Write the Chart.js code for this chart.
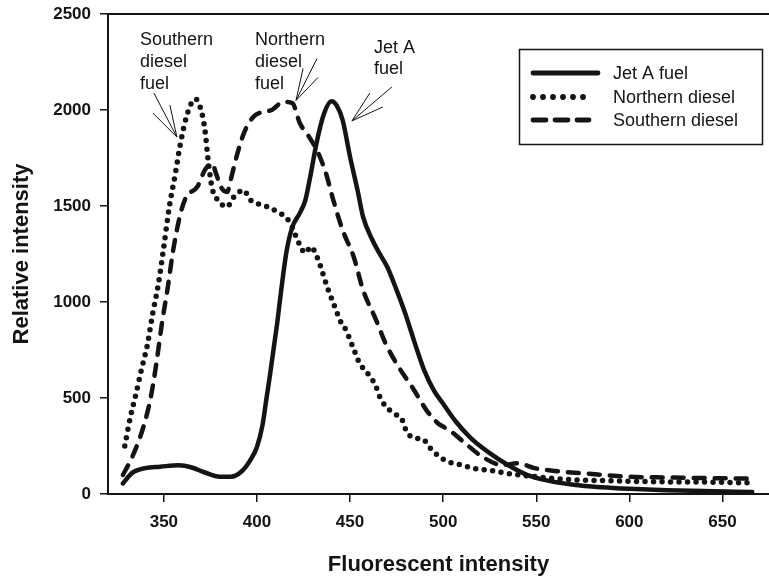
<!DOCTYPE html>
<html>
<head>
<meta charset="utf-8">
<title>Fluorescence spectra</title>
<script src="https://cdn.jsdelivr.net/npm/chart.js@4.4.1/dist/chart.umd.min.js"></script>
<style>
    html, body { margin: 0; padding: 0; background: #fff; }
    #wrap { width: 769px; height: 578px; position: relative; }
</style>
</head>
<body>
<div id="wrap"><canvas id="spectraChart"></canvas></div>
<script>
// ================= DATA =================
const seriesNames = ["Jet A fuel", "Northern diesel", "Southern diesel"];
const xTicks = [350, 400, 450, 500, 550, 600, 650];
const yTicks = [0, 500, 1000, 1500, 2000, 2500];

const jetX = [328, 333, 340, 348, 358, 365, 372, 380, 386, 392, 396, 400, 403, 405, 407, 409, 411, 413, 416, 419, 423, 426, 429, 432, 436, 440, 443, 446, 450, 454, 457, 462, 466, 470, 475, 479, 482, 486, 490, 495, 500, 507, 515, 525, 535, 545, 555, 570, 585, 600, 620, 640, 666];
const jetY = [55, 110, 135, 142, 150, 138, 112, 90, 90, 120, 170, 245, 360, 490, 620, 760, 900, 1060, 1270, 1390, 1463, 1531, 1672, 1828, 1980, 2045, 2020, 1948, 1756, 1583, 1443, 1323, 1250, 1182, 1062, 958, 870, 750, 640, 540, 470, 375, 290, 213, 150, 100, 72, 48, 35, 27, 20, 15, 10];

const northX = [329, 332, 335, 338, 341, 344, 347, 350, 353, 356, 359, 362, 365, 367, 370, 372, 374, 376, 379, 384, 387, 393, 396, 401, 406, 411, 416, 419, 421, 423, 426, 429, 432, 434, 436, 438, 441, 445, 448, 450, 452, 454, 457, 461, 464, 466, 469, 473, 478, 480, 484, 489, 493, 498, 503, 508, 513, 518, 524, 530, 536, 545, 555, 570, 585, 600, 620, 640, 665];
const northY = [250, 400, 520, 650, 770, 940, 1090, 1290, 1500, 1660, 1830, 1960, 2040, 2057, 2000, 1900, 1720, 1590, 1531, 1495, 1541, 1583, 1536, 1510, 1495, 1469, 1437, 1390, 1340, 1297, 1255, 1288, 1241, 1190, 1130, 1070, 995, 897, 851, 802, 755, 703, 655, 609, 557, 505, 458, 423, 385, 333, 292, 286, 240, 194, 167, 156, 142, 130, 125, 115, 105, 95, 85, 74, 70, 66, 63, 62, 58];

const southX = [328, 333, 339, 343, 346, 349, 352, 355, 359, 362, 368, 372, 376, 378, 381, 384, 386, 389, 393, 398, 403, 408, 414, 419, 423, 428, 433, 437, 441, 446, 452, 457, 464, 469, 476, 484, 491, 497, 501, 505, 511, 522, 532, 540, 549, 560, 575, 600, 620, 640, 665];
const southY = [99, 193, 349, 505, 682, 891, 1070, 1270, 1463, 1547, 1600, 1687, 1722, 1670, 1593, 1573, 1640, 1756, 1880, 1964, 1990, 2000, 2042, 2036, 1932, 1860, 1774, 1672, 1531, 1375, 1234, 1062, 906, 786, 663, 547, 437, 370, 345, 320, 271, 188, 151, 160, 135, 120, 108, 90, 86, 83, 80];

const noteTexts = [["Southern", "diesel", "fuel"], ["Northern", "diesel", "fuel"], ["Jet A", "fuel"]];

// ================= STYLES =================
const FONT = "'Liberation Sans', Arial, Helvetica, sans-serif";
const INK = "#141414";

const lineStyles = [
    { borderWidth: 4.5, borderDash: [], borderCapStyle: "round" },
    { borderWidth: 5.5, borderDash: [0, 8.5], borderCapStyle: "round" },
    { borderWidth: 4.5, borderDash: [11, 10], borderCapStyle: "round" }
];
const legendDash = [[], [0, 10], [13, 9]];

// label placement + arrow tip (tip in data units, arrow legs in px from tip)
const noteLayout = [
    { left: 140, top: 40, step: 22, tip: [357, 1859], legs: [[-23, -44], [-24, -24], [-7, -32]] },
    { left: 255, top: 40, step: 22, tip: [421, 2050], legs: [[21, -42], [7, -32], [22, -23]] },
    { left: 374, top: 48, step: 21, tip: [451, 1943], legs: [[40, -34], [18, -28], [31, -14]] }
];

const toPoints = (xs, ys) => xs.map((x, i) => ({ x: x, y: ys[i] }));

// ================= PLUGIN: frame, legend, notes =================
const decorPlugin = {
    id: "decor",
    afterDraw(chart) {
        const ctx = chart.ctx;
        const area = chart.chartArea;
        const xs = chart.scales.x;
        const ys = chart.scales.y;

        ctx.save();

        // top frame line
        ctx.strokeStyle = INK;
        ctx.lineWidth = 2;
        ctx.beginPath();
        ctx.moveTo(area.left, area.top);
        ctx.lineTo(chart.width, area.top);
        ctx.stroke();

        // legend box
        ctx.lineWidth = 1.5;
        ctx.strokeRect(519.5, 49.5, 243, 95);
        const rows = [73, 97, 120];
        const ends = [598, 591, 589];
        ctx.font = "18px " + FONT;
        ctx.textBaseline = "middle";
        ctx.fillStyle = INK;
        seriesNames.forEach((name, i) => {
            ctx.lineWidth = lineStyles[i].borderWidth + 0.3;
            ctx.lineCap = "round";
            ctx.setLineDash(legendDash[i]);
            ctx.beginPath();
            ctx.moveTo(533, rows[i]);
            ctx.lineTo(ends[i], rows[i]);
            ctx.stroke();
            ctx.setLineDash([]);
            ctx.fillText(name, 613, rows[i] + 1);
        });

        // callout notes with arrows
        ctx.lineWidth = 1;
        ctx.lineCap = "butt";
        noteTexts.forEach((lines, i) => {
            const lay = noteLayout[i];
            lines.forEach((t, j) => ctx.fillText(t, lay.left, lay.top + j * lay.step));
            const tx = xs.getPixelForValue(lay.tip[0]);
            const ty = ys.getPixelForValue(lay.tip[1]);
            lay.legs.forEach(l => {
                ctx.beginPath();
                ctx.moveTo(tx, ty);
                ctx.lineTo(tx + l[0], ty + l[1]);
                ctx.stroke();
            });
        });

        ctx.restore();
    }
};

// ================= CREATE CHART =================
const datasets = [
    toPoints(jetX, jetY),
    toPoints(northX, northY),
    toPoints(southX, southY)
].map((pts, i) => Object.assign({
    label: seriesNames[i],
    data: pts,
    borderColor: INK,
    backgroundColor: INK,
    pointRadius: 0,
    fill: false,
    cubicInterpolationMode: "monotone",
    borderJoinStyle: "round"
}, lineStyles[i]));

new Chart(document.getElementById("spectraChart"), {
    type: "line",
    data: { datasets: datasets },
    plugins: [decorPlugin],
    options: {
        responsive: true,
        maintainAspectRatio: false,
        animation: false,
        layout: { padding: { top: 14, right: 0, bottom: 0, left: 0 } },
        plugins: {
            legend: { display: false },
            tooltip: { enabled: false }
        },
        scales: {
            x: {
                type: "linear",
                min: 320,
                max: 675,
                afterBuildTicks: s => { s.ticks = xTicks.map(v => ({ value: v })); },
                afterFit: s => { s.height = 84; },
                border: { display: true, color: INK, width: 2 },
                grid: { display: true, drawOnChartArea: false, drawTicks: true, tickLength: 8, color: INK, lineWidth: 1.5 },
                ticks: { color: INK, padding: 10, maxRotation: 0, autoSkip: false, callback: v => String(v), font: { family: FONT, size: 17, weight: "bold" } },
                title: { display: true, text: "Fluorescent intensity", color: INK, padding: { top: 4, bottom: 0 }, font: { family: FONT, size: 22, weight: "bold" } }
            },
            y: {
                min: 0,
                max: 2500,
                afterBuildTicks: s => { s.ticks = yTicks.map(v => ({ value: v })); },
                afterFit: s => { s.width = 108; s.paddingTop = 0; s.paddingBottom = 0; },
                border: { display: true, color: INK, width: 2 },
                grid: { display: true, drawOnChartArea: false, drawTicks: true, tickLength: 8, color: INK, lineWidth: 1.5 },
                ticks: { color: INK, padding: 9, callback: v => String(v), font: { family: FONT, size: 17, weight: "bold" } },
                title: { display: true, text: "Relative intensity", color: INK, padding: { top: 9, bottom: 0 }, font: { family: FONT, size: 22, weight: "bold" } }
            }
        }
    }
});
</script>
</body>
</html>
